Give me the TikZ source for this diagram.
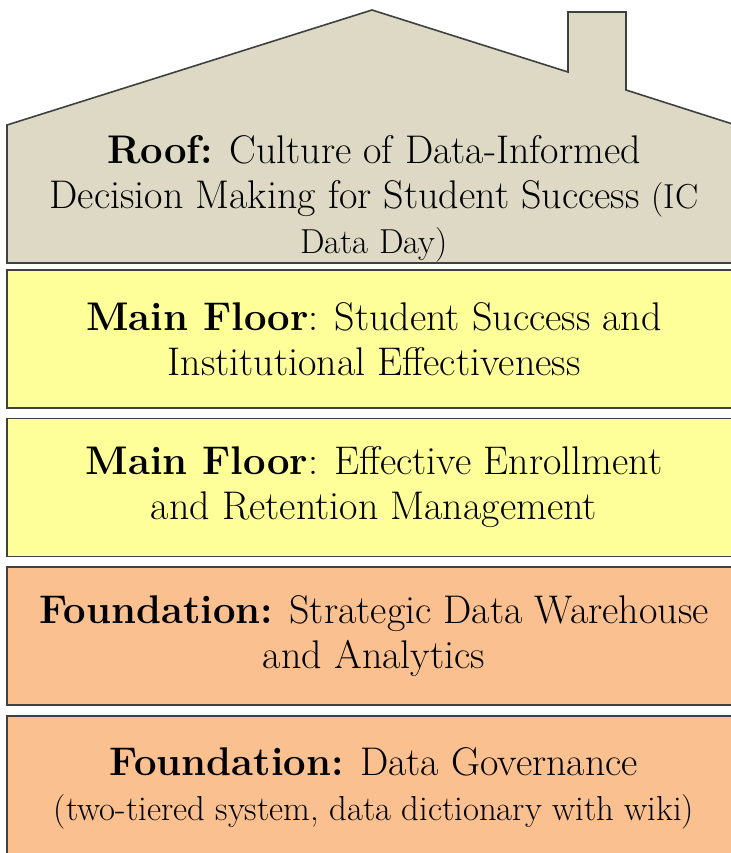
\documentclass[tikz,border=0pt]{standalone}
\usepackage{xcolor}
\usepackage{tikz}

\definecolor{roofgray}{HTML}{DDD9C4}
\definecolor{flooryellow}{HTML}{FFFF99}
\definecolor{basepeach}{HTML}{FAC090}
\definecolor{edgegray}{HTML}{404040}

\newcommand{\bigtext}{\fontsize{30}{33.75}\selectfont}
\newcommand{\midtext}{\fontsize{26}{33.75}\selectfont}

\tikzset{
  level/.style={draw=edgegray, line width=1.2pt, rectangle, minimum width=550.5pt, minimum height=103.5pt, align=center, font=\bigtext, inner sep=0pt},
}

\begin{document}
\begin{tikzpicture}[x=0.75pt, y=-0.75pt]
                \clip (0,0) rectangle (731,853);
                % roof with chimney
                \draw[draw=edgegray, line width=1.2pt, fill=roofgray] (7,263) -- (7,125) -- (372,10) -- (568,72) -- (568,12) -- (626,12) -- (626,90) -- (745,128) -- (745,263) -- cycle;
                \node[align=center, font=\bigtext] (roof) at (374,199) {\textbf{Roof:} Culture of Data-Informed\\Decision Making for Student Success {\midtext(IC}\\{\midtext Data Day)}};
                \node[level, fill=flooryellow] (main1) at (374,339) {\textbf{Main Floor}: Student Success and\\Institutional Effectiveness};
                \node[level, fill=flooryellow] (main2) at (374,487.5) {\textbf{Main Floor}: Effective Enrollment\\and Retention Management};
                \node[level, fill=basepeach] (base1) at (374,636) {\textbf{Foundation:} Strategic Data Warehouse\\and Analytics};
                \node[level, fill=basepeach, minimum height=108pt] (base2) at (374,788) {\textbf{Foundation:} Data Governance\\{\midtext (two-tiered system, data dictionary with wiki)}};
            \end{tikzpicture}
\end{document}
